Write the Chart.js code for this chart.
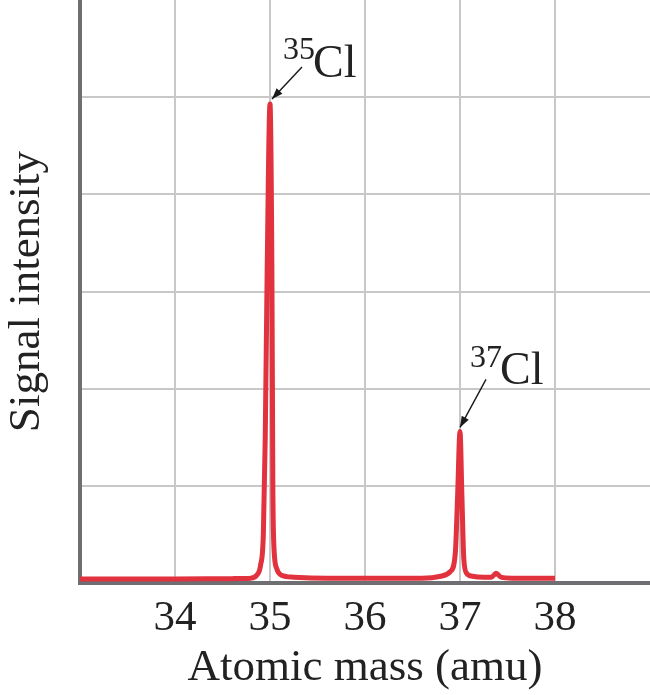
<!DOCTYPE html>
<html>
<head>
<meta charset="utf-8">
<script src="https://cdn.jsdelivr.net/npm/chart.js@4"></script>
<style>
  html, body { margin: 0; padding: 0; background: #fff; }
  canvas { display: block; }
</style>
</head>
<body>
<canvas id="chart" width="650" height="695"></canvas>
<script>
// mass spectrum of chlorine
const massValues = [
  33.0, 34.0, 34.6, 34.8, 34.86, 34.9, 34.93, 34.95, 34.97, 35.0,
  35.02, 35.03, 35.04, 35.07, 35.12, 35.25, 35.6, 36.2, 36.6, 36.8,
  36.9, 36.95, 36.975, 37.0, 37.02, 37.04, 37.07, 37.13, 37.25, 37.33,
  37.38, 37.43, 37.55, 38.0
];
const signalValues = [
  0.04, 0.04, 0.045, 0.05, 0.08, 0.18, 0.5, 1.5, 3.2, 4.93,
  3.2, 1.0, 0.4, 0.15, 0.08, 0.06, 0.05, 0.05, 0.05, 0.07,
  0.12, 0.3, 0.9, 1.56, 0.9, 0.25, 0.1, 0.07, 0.06, 0.06,
  0.1, 0.06, 0.05, 0.05
];
const xTickValues = [34, 35, 36, 37, 38];
const noteMass = [35, 37];
const noteSignal = [4.93, 1.56];
const noteIsotope = ["35", "37"];

const serif = "'Liberation Serif', 'Times New Roman', serif";
const gridColor = "#c8c8c8";
const axisColor = "#6e6e73";

// arrow + label offsets from each peak tip (px)
const noteLayout = [
  { tail: [32, -37], tip: [2, -5], sup: [13, -45], el: [43, -27] },
  { tail: [26, -52], tip: [0, -4], sup: [10, -64], el: [40, -47] },
];

const peakNotes = {
  id: "peakNotes",
  afterDatasetsDraw(chart) {
    const { ctx, scales } = chart;
    ctx.save();
    noteMass.forEach((m, i) => {
      const px = scales.x.getPixelForValue(m);
      const py = scales.y.getPixelForValue(noteSignal[i]);
      const L = noteLayout[i];
      const x1 = px + L.tail[0], y1 = py + L.tail[1];
      const x2 = px + L.tip[0], y2 = py + L.tip[1];
      ctx.strokeStyle = "#1a1a1a";
      ctx.fillStyle = "#1a1a1a";
      ctx.lineWidth = 1.4;
      ctx.beginPath();
      ctx.moveTo(x1, y1);
      ctx.lineTo(x2, y2);
      ctx.stroke();
      const ang = Math.atan2(y2 - y1, x2 - x1);
      const hl = 11, hw = 4;
      ctx.beginPath();
      ctx.moveTo(x2, y2);
      ctx.lineTo(x2 - hl * Math.cos(ang) + hw * Math.sin(ang), y2 - hl * Math.sin(ang) - hw * Math.cos(ang));
      ctx.lineTo(x2 - hl * Math.cos(ang) - hw * Math.sin(ang), y2 - hl * Math.sin(ang) + hw * Math.cos(ang));
      ctx.closePath();
      ctx.fill();

      ctx.textBaseline = "alphabetic";
      ctx.textAlign = "left";
      ctx.fillStyle = "#222";
      ctx.font = "32px " + serif;
      ctx.fillText(noteIsotope[i], px + L.sup[0], py + L.sup[1]);
      ctx.font = "46px " + serif;
      ctx.fillText("Cl", px + L.el[0], py + L.el[1]);
    });
    ctx.restore();
  },
};

new Chart(document.getElementById("chart").getContext("2d"), {
  type: "line",
  data: {
    datasets: [
      {
        data: massValues.map((m, i) => ({ x: m, y: signalValues[i] })),
        borderColor: "#e1323e",
        borderWidth: 5,
        pointRadius: 0,
        fill: false,
        cubicInterpolationMode: "monotone",
        borderJoinStyle: "round",
        borderCapStyle: "butt",
      },
    ],
  },
  options: {
    responsive: false,
    animation: false,
    layout: { padding: 0 },
    plugins: { legend: { display: false }, tooltip: { enabled: false } },
    scales: {
      x: {
        type: "linear",
        min: 33,
        max: 39,
        afterBuildTicks: (s) => {
          s.ticks = [33, 34, 35, 36, 37, 38, 39].map((v) => ({ value: v }));
        },
        afterFit: (s) => {
          s.height = 112;
          s.paddingLeft = 0;
          s.paddingRight = 0;
        },
        ticks: {
          autoSkip: false,
          maxRotation: 0,
          padding: 10,
          color: "#222",
          font: { family: serif, size: 43 },
          callback: (v) => (xTickValues.includes(v) ? String(v) : ""),
        },
        grid: {
          drawTicks: false,
          lineWidth: 2,
          color: (c) => (c.tick && xTickValues.includes(c.tick.value) ? gridColor : "rgba(0,0,0,0)"),
        },
        border: { color: axisColor, width: 4 },
        title: {
          display: true,
          text: "Atomic mass (amu)",
          color: "#222",
          font: { family: serif, size: 45 },
          padding: 0,
        },
      },
      y: {
        min: 0,
        max: 6,
        afterFit: (s) => {
          s.width = 80;
          s.paddingTop = 0;
          s.paddingBottom = 0;
        },
        ticks: { stepSize: 1, display: false },
        grid: {
          drawTicks: false,
          lineWidth: 2,
          color: (c) => (c.tick && c.tick.value > 0 && c.tick.value < 6 ? gridColor : "rgba(0,0,0,0)"),
        },
        border: { color: axisColor, width: 4 },
        title: {
          display: true,
          text: "Signal intensity",
          color: "#222",
          font: { family: serif, size: 45 },
          padding: 0,
        },
      },
    },
  },
  plugins: [peakNotes],
});
</script>
</body>
</html>
